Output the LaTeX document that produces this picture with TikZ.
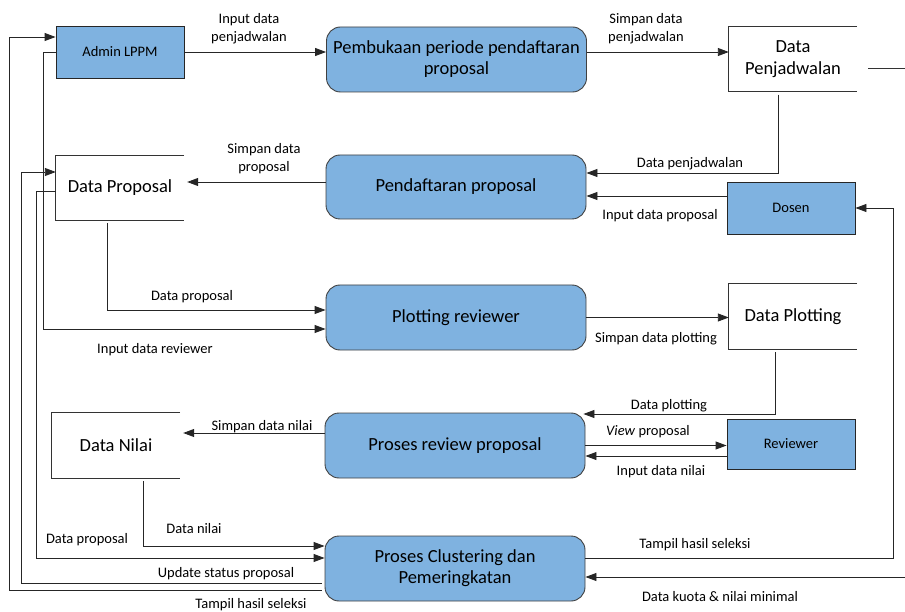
\documentclass[tikz,border=0pt]{standalone}
\usepackage{fontspec}
\setmainfont{Carlito}
\usepackage{tikz}
\usetikzlibrary{arrows.meta,calc}
\definecolor{procBlue}{RGB}{127,178,224}
\tikzstyle{flow}=[->, >={Triangle[length=11pt,width=8pt]}, line width=0.9pt, draw=black!85]
\tikzstyle{wire}=[line width=0.9pt, draw=black!80]
\tikzstyle{proc}=[rectangle, rounded corners=14pt, fill=procBlue, draw=black!75, line width=0.9pt, minimum width=260pt, minimum height=65pt, align=center, font=\fontsize{18.5}{21}\selectfont, inner sep=2pt]
\tikzstyle{entity}=[rectangle, fill=procBlue, draw=black!85, line width=0.9pt, minimum width=128pt, minimum height=52pt, font=\fontsize{14.5}{16}\selectfont]
\tikzstyle{store}=[rectangle, minimum width=128pt, minimum height=65pt, align=center, font=\fontsize{18.5}{22}\selectfont]
\tikzstyle{lbl}=[align=center, font=\fontsize{14.5}{18}\selectfont, inner sep=0pt]

\begin{document}
\begin{tikzpicture}[x=1pt, y=-1pt]
  \useasboundingbox (0,0) rectangle (905,612);
  %%%%%%%%%%%% entitas dan proses
  \node(admin) [entity] at (120, 52){Admin LPPM};
  \node(p1) [proc] at (456.5, 59.5){Pembukaan periode pendaftaran\\proposal};
  \node(dpj) [store] at (793, 59){Data\\Penjadwalan};
  \node(dprop) [store, minimum height=64pt] at (120, 188){Data Proposal};
  \node(p2) [proc, minimum height=64pt] at (456, 187){Pendaftaran proposal};
  \node(dosen) [entity] at (791, 208){Dosen};
  \node(p3) [proc] at (456, 317.5){Plotting reviewer};
  \node(dplot) [store] at (793, 316.5){Data Plotting};
  \node(p4) [proc] at (455, 445.5){Proses review proposal};
  \node(reviewer) [entity, minimum height=50pt] at (791, 444){Reviewer};
  \node(dnilai) [store] at (116, 445.5){Data Nilai};
  \node(p5) [proc] at (455, 568.5){Proses Clustering dan\\Pemeringkatan};
  \coordinate(kuota) at (905, 577);
  \coordinate(keluar) at (905, 68);
  %%%%%%%%%%%% data store (terbuka di kanan)
  \foreach \s in {dpj, dprop, dplot, dnilai}
    \draw[wire] (\s.north east) -- (\s.north west) -- (\s.south west) -- (\s.south east);
  %%%%%%%%%%%% aliran data
  \draw[flow] (admin.east) -- (admin.east -| p1.west);
  \draw[flow] (p1.east |- admin.east) -- (dpj.west |- admin.east);
  \draw[wire] ([xshift=11pt, yshift=-9pt]dpj.east) -- (keluar);
  \draw[flow] ([xshift=-15pt, yshift=-3pt]dpj.south) |- ([yshift=14pt]p2.east);
  \draw[flow] ([yshift=12pt]dosen.west) -- ([yshift=12pt]dosen.west -| p2.east);
  \draw[flow] ([yshift=5pt]p2.west) -- ([yshift=5pt, xshift=3pt]p2.west -| dprop.east);
  \draw[flow] ([xshift=-13pt, yshift=-3pt]dprop.south) |- ([yshift=7.5pt]p3.west);
  \draw[flow] (admin.west) -- ++(-12, 0) |- ([yshift=-11.5pt]p3.west);
  \draw[flow] (p3.east) -- (p3.east -| dplot.west);
  \draw[flow] ([xshift=-18pt, yshift=-3pt]dplot.south) |- ([yshift=31.5pt, xshift=-2pt]p4.east);
  \draw[flow] (p4.east) -- (p4.east -| reviewer.west);
  \draw[flow] ([yshift=-12pt]reviewer.west) -- ([yshift=-12pt]reviewer.west -| p4.east);
  \draw[flow] ([yshift=12.5pt]p4.west) -- ([yshift=12.5pt, xshift=3pt]p4.west -| dnilai.east);
  \draw[flow] ([xshift=27pt, yshift=-3pt]dnilai.south) |- ([yshift=22.5pt]p5.west);
  \draw[flow] ([yshift=-3pt]dprop.west) -- ++(-19, 0) |- ([yshift=10.5pt]p5.west);
  \draw[flow] ([yshift=-14.5pt, xshift=-3pt]p5.west) -- ++(-300, 0) |- ([yshift=16pt]dprop.west);
  \draw[flow] ([yshift=-21.5pt, xshift=-3pt]p5.west) -- ++(-312, 0) |- ([yshift=15pt]admin.west);
  \draw[flow] ([yshift=10.5pt]p5.east) -| ([xshift=38pt]dosen.east) -- (dosen.east);
  \draw[flow] (kuota) -- (kuota -| p5.east);
  %%%%%%%%%%%% label aliran
  \node(l1) [lbl] at (249, 29){Input data\\penjadwalan};
  \node(l2) [lbl] at (646, 29){Simpan data\\penjadwalan};
  \node(l3) [lbl] at (690, 164){Data penjadwalan};
  \node(l4) [lbl] at (660, 216){Input data proposal};
  \node(l5) [lbl] at (264, 159){Simpan data\\proposal};
  \node(l6) [lbl] at (192, 297){Data proposal};
  \node(l7) [lbl] at (155, 350){Input data reviewer};
  \node(l8) [lbl] at (656, 339){Simpan data plotting};
  \node(l9) [lbl] at (669, 406){Data plotting};
  \node(l10) [lbl] at (648, 432){\emph{View} proposal};
  \node(l11) [lbl] at (661, 472){Input data nilai};
  \node(l12) [lbl] at (262, 427){Simpan data nilai};
  \node(l13) [lbl] at (194, 529){Data nilai};
  \node(l14) [lbl] at (87, 540){Data proposal};
  \node(l15) [lbl] at (226, 574){Update status proposal};
  \node(l16) [lbl] at (251, 605){Tampil hasil seleksi};
  \node(l17) [lbl] at (695, 545){Tampil hasil seleksi};
  \node(l18) [lbl] at (720, 597){Data kuota \& nilai minimal};
\end{tikzpicture}
\end{document}
